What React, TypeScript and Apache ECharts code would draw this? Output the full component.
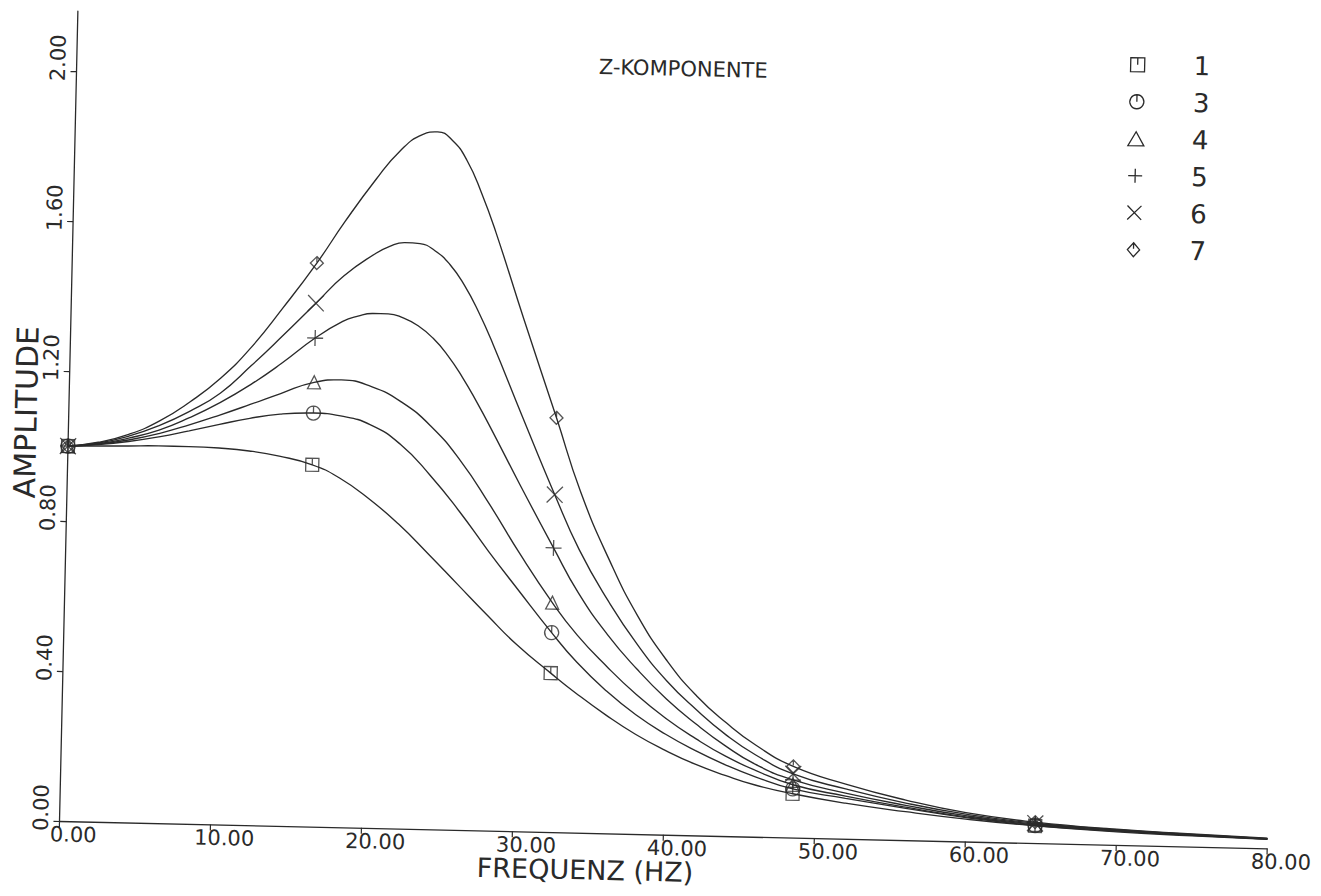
import React, { useEffect, useRef } from 'react';
import * as echarts from 'echarts';

// Frequencies (Hz) at which the plotter drew a marker symbol
const freqMarkers = [0, 16.2, 32.3, 48.5, 64.6];

// Curves: [frequency (Hz), amplitude]
const curve1 = [[0, 1.0], [2, 1.002], [4, 1.004], [6, 1.006], [8, 1.006], [10, 1.004], [12, 0.998], [14, 0.986], [16.2, 0.965], [18, 0.932], [20, 0.878], [22, 0.812], [24, 0.735], [26, 0.655], [28, 0.575], [30, 0.498], [32.3, 0.424], [34, 0.372], [36, 0.316], [38, 0.266], [40, 0.225], [42, 0.19], [44, 0.162], [46, 0.138], [48.5, 0.117], [52, 0.095], [56, 0.076], [60, 0.06], [64.6, 0.046], [70, 0.035], [75, 0.029], [80, 0.024]];
const curve3 = [[0, 1.0], [2, 1.006], [4, 1.016], [6, 1.03], [8, 1.048], [10, 1.067], [12, 1.085], [14, 1.098], [16.2, 1.103], [18, 1.097], [20, 1.075], [22, 1.025], [24, 0.945], [26, 0.85], [28, 0.745], [30, 0.645], [32.3, 0.532], [34, 0.455], [36, 0.38], [38, 0.318], [40, 0.268], [42, 0.226], [44, 0.19], [46, 0.16], [48.5, 0.13], [52, 0.108], [56, 0.085], [60, 0.064], [64.6, 0.047], [70, 0.037], [75, 0.03], [80, 0.025]];
const curve4 = [[0, 1.0], [2, 1.007], [4, 1.02], [6, 1.039], [8, 1.064], [10, 1.092], [12, 1.122], [14, 1.153], [16.2, 1.185], [18, 1.193], [20, 1.177], [22, 1.138], [24, 1.075], [26, 0.985], [28, 0.87], [30, 0.745], [32.3, 0.612], [34, 0.527], [36, 0.445], [38, 0.372], [40, 0.31], [42, 0.258], [44, 0.213], [46, 0.177], [48.5, 0.141], [52, 0.114], [56, 0.088], [60, 0.066], [64.6, 0.049], [70, 0.038], [75, 0.031], [80, 0.025]];
const curve5 = [[0, 1.0], [2, 1.008], [4, 1.025], [6, 1.048], [8, 1.083], [10, 1.125], [12, 1.175], [14, 1.233], [16.2, 1.303], [18, 1.349], [19, 1.364], [20, 1.372], [21, 1.372], [22, 1.362], [23, 1.342], [24, 1.31], [25, 1.265], [26, 1.208], [27, 1.142], [28, 1.071], [30, 0.923], [32.3, 0.758], [34, 0.64], [36, 0.53], [38, 0.44], [40, 0.362], [42, 0.297], [44, 0.24], [46, 0.193], [48.5, 0.154], [52, 0.122], [56, 0.093], [60, 0.069], [64.6, 0.051], [70, 0.04], [75, 0.032], [80, 0.026]];
const curve6 = [[0, 1.0], [2, 1.01], [4, 1.03], [6, 1.06], [8, 1.1], [10, 1.15], [12, 1.225], [14, 1.305], [16.2, 1.396], [18, 1.47], [20, 1.53], [21, 1.552], [22, 1.563], [23, 1.561], [24, 1.543], [25, 1.508], [26, 1.453], [27, 1.381], [28, 1.296], [30, 1.11], [32.3, 0.9], [34, 0.755], [36, 0.62], [38, 0.505], [40, 0.41], [42, 0.335], [44, 0.27], [46, 0.218], [48.5, 0.17], [52, 0.133], [56, 0.099], [60, 0.073], [64.6, 0.053], [70, 0.041], [75, 0.033], [80, 0.026]];
const curve7 = [[0, 1.0], [2, 1.012], [4, 1.035], [6, 1.072], [8, 1.125], [10, 1.19], [12, 1.275], [14, 1.38], [16.2, 1.503], [18, 1.615], [20, 1.73], [21.5, 1.805], [23, 1.852], [24, 1.86], [25, 1.838], [26, 1.785], [27, 1.7], [28, 1.597], [30, 1.365], [32.3, 1.105], [34, 0.91], [36, 0.73], [38, 0.58], [40, 0.463], [42, 0.372], [44, 0.302], [46, 0.244], [48.5, 0.19], [52, 0.146], [56, 0.107], [60, 0.077], [64.6, 0.056], [70, 0.042], [75, 0.034], [80, 0.027]];

const seriesNames = ['1', '3', '4', '5', '6', '7'];
const curves = [curve1, curve3, curve4, curve5, curve6, curve7];

const xTicks = [0, 10, 20, 30, 40, 50, 60, 70, 80];
const yTicks = [0, 0.4, 0.8, 1.2, 1.6, 2.0];

const titleText = 'Z-KOMPONENTE';
const xAxisTitle = 'FREQUENZ (HZ)';
const yAxisTitle = 'AMPLITUDE';

const INK = '#2a2a2a';
const FONT = '"DejaVu Sans", "Liberation Sans", sans-serif';

const markerSymbols = [
  'path://M2,2 L18,2 L18,18 L2,18 Z M10,2 L10,10',
  'path://M10,2 A8,8 0 1 1 9.99,2 Z M10,2 L10,10',
  'path://M10,3 L18,17 L2,17 Z',
  'path://M10,1 L10,19 M1,10 L19,10',
  'path://M2,2 L18,18 M18,2 L2,18',
  'path://M10,2 L17,10 L10,18 L3,10 Z M10,2 L10,9',
];
const markerSizes = [13, 14, 13, 16, 16, 13];

export default function App() {
  const ref = useRef<HTMLDivElement>(null);

  useEffect(() => {
    document.body.style.margin = '0';
    const chart = echarts.init(ref.current as HTMLDivElement, null, { renderer: 'svg' });

    const series: any[] = [];
    curves.forEach((c, i) => {
      series.push({
        name: seriesNames[i],
        type: 'line',
        data: c,
        smooth: 0.5,
        symbol: 'none',
        lineStyle: { color: INK, width: 1.35 },
        silent: true,
        z: 2,
      });
    });
    curves.forEach((c, i) => {
      series.push({
        name: seriesNames[i],
        type: 'scatter',
        data: c.filter((p) => freqMarkers.includes(p[0])),
        symbol: markerSymbols[i],
        symbolSize: markerSizes[i],
        itemStyle: { color: 'rgba(0,0,0,0)', borderColor: INK, borderWidth: 1.3 },
        silent: true,
        z: 3,
      });
    });

    const fmt = (v: number) => v.toFixed(2);

    chart.setOption({
      animation: false,
      backgroundColor: '#ffffff',
      grid: { left: 59.5, top: 11, width: 1208, height: 810, containLabel: false, outerBoundsMode: 'none' },
      xAxis: {
        type: 'value',
        min: 0,
        max: 80,
        interval: 10,
        axisLine: { show: true, lineStyle: { color: INK, width: 1.3 } },
        axisTick: { show: true, length: 6, lineStyle: { color: INK, width: 1.2 }, customValues: xTicks },
        axisLabel: {
          customValues: xTicks,
          formatter: fmt,
          fontSize: 21,
          fontFamily: FONT,
          color: INK,
          margin: 3,
          padding: [0, 0, 0, 28],
        },
        splitLine: { show: false },
      },
      yAxis: {
        type: 'value',
        min: 0,
        max: 2.16,
        interval: 0.4,
        axisLine: { show: true, lineStyle: { color: INK, width: 1.3 } },
        axisTick: { show: true, length: 6, lineStyle: { color: INK, width: 1.2 }, customValues: yTicks },
        axisLabel: {
          customValues: yTicks,
          formatter: fmt,
          rotate: 90,
          fontSize: 21,
          fontFamily: FONT,
          color: INK,
          margin: 8,
          padding: [0, 0, 0, 26],
        },
        splitLine: { show: false },
      },
      legend: {
        orient: 'vertical',
        left: 1111.6,
        top: 27.5,
        padding: 0,
        itemGap: 11,
        itemWidth: 102,
        itemHeight: 14,
        selectedMode: false,
        data: seriesNames.map((n, i) => ({ name: n, icon: markerSymbols[i] })),
        itemStyle: { color: 'rgba(0,0,0,0)', borderColor: INK, borderWidth: 1.3 },
        textStyle: { fontSize: 26, fontFamily: FONT, color: INK },
      },
      graphic: [
        {
          type: 'text',
          x: 666,
          y: 55,
          style: { text: titleText, fontSize: 21, fontFamily: FONT, fill: INK, align: 'center', verticalAlign: 'middle' },
        },
        {
          type: 'text',
          x: 586,
          y: 858,
          style: { text: xAxisTitle, fontSize: 27, fontFamily: FONT, fill: INK, align: 'center', verticalAlign: 'middle' },
        },
        {
          type: 'text',
          x: 17,
          y: 413,
          rotation: Math.PI / 2,
          style: { text: yAxisTitle, fontSize: 30, fontFamily: FONT, fill: INK, align: 'center', verticalAlign: 'middle' },
        },
      ],
      series,
    });

    return () => chart.dispose();
  }, []);

  return (
    <div style={{ position: 'relative', width: 1321, height: 896, overflow: 'hidden', background: '#ffffff' }}>
      <div
        ref={ref}
        style={{
          position: 'absolute',
          left: 0,
          top: 0,
          width: 1321,
          height: 896,
          transform: 'rotate(1.3deg)',
          transformOrigin: '59.5px 821px',
        }}
      />
    </div>
  );
}
